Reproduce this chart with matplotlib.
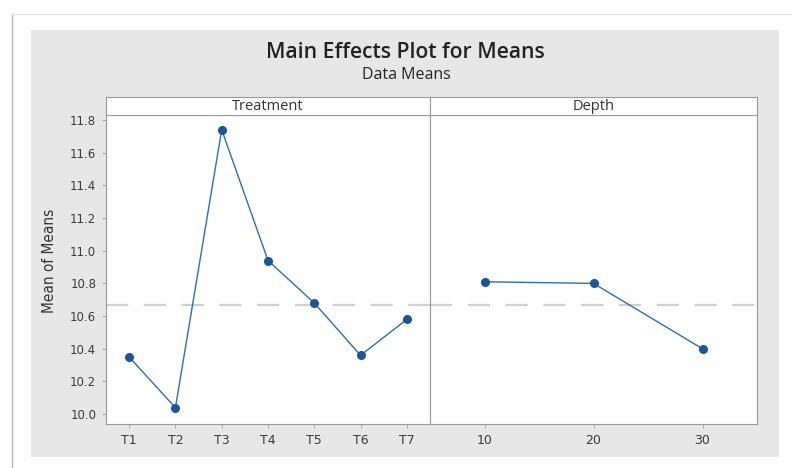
import matplotlib
matplotlib.use("Agg")
import matplotlib.pyplot as plt
from matplotlib.patches import Rectangle
from matplotlib.lines import Line2D

# data
treatments = ["T1", "T2", "T3", "T4", "T5", "T6", "T7"]
treatment_means = [10.35, 10.04, 11.74, 10.94, 10.68, 10.36, 10.58]
depths = ["10", "20", "30"]
depth_means = [10.81, 10.80, 10.40]
grand_mean = 10.67
yticks = [10.0, 10.2, 10.4, 10.6, 10.8, 11.0, 11.2, 11.4, 11.6, 11.8]

W, H = 792, 468
fig = plt.figure(figsize=(W / 100, H / 100), dpi=100)
fig.patch.set_facecolor("white")

def box(x0, y0, x1, y1):
    # pixel box -> figure fractions
    return [x0 / W, 1 - y1 / H, (x1 - x0) / W, (y1 - y0) / H]

# outer frame lines and grey backdrop
fig.add_artist(Line2D([12 / W, 12 / W], [0, 1 - 14 / H], transform=fig.transFigure,
                      color="#bbbbbb", lw=1))
fig.add_artist(Line2D([12 / W, 1], [1 - 14 / H, 1 - 14 / H], transform=fig.transFigure,
                      color="#e6e6e6", lw=1))
fig.add_artist(Rectangle((31 / W, 1 - 457 / H), (779 - 31) / W, (457 - 30) / H,
                         transform=fig.transFigure, facecolor="#e7e7e7", edgecolor="none",
                         zorder=-10))

fig.text(405 / W, 1 - 53 / H, "Main Effects Plot for Means", ha="center", va="center",
         fontsize=15.2, fontweight="semibold", color="#222222", family="Open Sans")
fig.text(406 / W, 1 - 75 / H, "Data Means", ha="center", va="center",
         fontsize=11.5, fontweight="medium", color="#222222", family="Open Sans")
fig.text(50 / W, 1 - 261 / H, "Mean of Means", rotation=90, ha="center", va="center",
         fontsize=11, color="#333333", family="Liberation Sans Narrow", stretch="condensed")

ymin, ymax = 9.94, 11.83
line_c = "#2f6db5"
mark_c = "#1f5596"

panels = [
    (106, 430, treatments, treatment_means, "Treatment"),
    (430, 757, depths, depth_means, "Depth"),
]
for i, (x0, x1, cats, vals, name) in enumerate(panels):
    ax = fig.add_axes(box(x0, 115, x1, 424))
    ax.set_facecolor("white")
    xs = list(range(len(cats)))
    ax.axhline(grand_mean, color="#d0d0d0", lw=1.6, ls=(0, (10, 7)), zorder=1)
    ax.plot(xs, vals, color=line_c, lw=1.0, marker="o", ms=5.5,
            mfc=mark_c, mec=mark_c, zorder=3)
    ax.set_xlim(-0.5, len(cats) - 0.5)
    ax.set_ylim(ymin, ymax)
    ax.set_xticks(xs)
    ax.set_xticklabels(cats, fontsize=9, color="#3a3a3a", fontweight="medium")
    ax.set_yticks(yticks)
    if i == 0:
        ax.set_yticklabels([f"{v:.1f}" for v in yticks], fontsize=8.5, color="#3a3a3a",
                           fontweight="medium")
    else:
        ax.tick_params(axis="y", left=False, labelleft=False)
    ax.tick_params(axis="both", length=3, width=0.6, color="#999999", pad=4)
    for s in ax.spines.values():
        s.set_color("#999999")
        s.set_linewidth(0.8)

    hx = fig.add_axes(box(x0, 97, x1, 115))
    hx.set_facecolor("white")
    hx.set_xticks([])
    hx.set_yticks([])
    for s in hx.spines.values():
        s.set_color("#999999")
        s.set_linewidth(0.8)
    hx.text(0.5, 0.45, name, ha="center", va="center", fontsize=10.5,
            color="#333333", transform=hx.transAxes, family="Open Sans")

fig.savefig("out.png", dpi=100)
